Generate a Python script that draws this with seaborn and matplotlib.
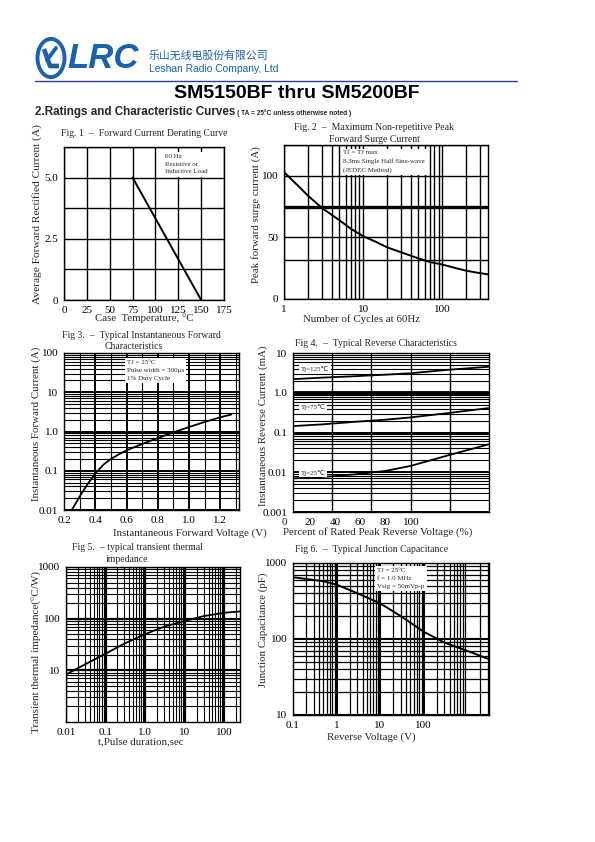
import numpy as np
import pandas as pd
import matplotlib
matplotlib.use("Agg")
import matplotlib.pyplot as plt
import seaborn as sns
from matplotlib.ticker import LogLocator, NullFormatter, FixedLocator
from matplotlib.patches import Circle
from matplotlib.lines import Line2D
import matplotlib.transforms as mtransforms

# ---------------- data ----------------
fig1_temp = [75, 150]
fig1_current = [5.0, 0.0]

fig2_cycles = [1, 1.5, 2, 3, 5, 7, 10, 15, 20, 30, 50, 70, 100, 150, 200, 300, 380]
fig2_surge = [103, 92, 84, 74, 64, 57, 51, 46, 42, 38, 33, 30, 28, 25, 23, 21, 20]

fig3_voltage = [0.25, 0.28, 0.30, 0.35, 0.40, 0.45, 0.50, 0.55, 0.60, 0.70,
                0.80, 0.90, 1.00, 1.10, 1.20, 1.27]
fig3_current = [0.010, 0.016, 0.022, 0.045, 0.085, 0.14, 0.20, 0.26, 0.33, 0.48,
                0.68, 0.95, 1.30, 1.75, 2.30, 2.70]

fig4_percent = [7, 30, 55, 80, 100, 130, 161]
fig4_tj125 = [2.2, 2.4, 2.6, 2.85, 3.1, 3.8, 4.5]
fig4_tj75 = [0.145, 0.16, 0.185, 0.21, 0.24, 0.31, 0.41]
fig4_tj25 = [0.0070, 0.0076, 0.0088, 0.0108, 0.0145, 0.027, 0.05]

fig5_time = [0.01, 0.03, 0.1, 0.3, 1.0, 3.0, 10, 30, 100, 250]
fig5_impedance = [8.3, 13, 21, 33, 50, 70, 90, 112, 130, 138]

fig6_voltage = [0.1, 0.5, 1, 3, 10, 30, 100, 300, 1000, 3000]
fig6_capacitance = [650, 575, 520, 400, 295, 200, 125, 90, 70, 55]

fig1_xticks = [0, 25, 50, 75, 100, 125, 150, 175]
fig1_yticks = [0, 2.5, 5.0]
fig1_ylabels = ["0", "2.5", "5.0"]
fig2_xticks = [1, 10, 100]
fig2_yticks = [0, 50, 100]
fig3_xticks = [0.2, 0.4, 0.6, 0.8, 1.0, 1.2]
fig3_yticks = [0.01, 0.1, 1, 10, 100]
fig3_ylabels = ["0.01", "0.1", "1.0", "10", "100"]
fig4_xticks = [20, 40, 60, 80, 100]
fig4_yticks = [0.001, 0.01, 0.1, 1, 10]
fig4_ylabels = ["0.001", "0.01", "0.1", "1.0", "10"]
fig5_xticks = [0.01, 0.1, 1, 10, 100]
fig5_xlabels = ["0.01", "0.1", "1.0", "10", "100"]
fig5_yticks = [10, 100, 1000]
fig6_xticks = [0.1, 1, 10, 100]
fig6_xlabels = ["0.1", "1", "10", "100"]
fig6_yticks = [10, 100, 1000]

# ---------------- style ----------------
sns.set_style("white")
plt.rcParams["font.family"] = ["Liberation Serif", "DejaVu Sans"]
plt.rcParams["axes.edgecolor"] = "black"
plt.rcParams["axes.linewidth"] = 1.0

W, H = 595, 842
fig = plt.figure(figsize=(W / 100, H / 100), dpi=100)
fig.patch.set_facecolor("white")

SERIF = ["Liberation Serif", "DejaVu Sans"]
SANS = ["Liberation Sans", "DejaVu Sans"]
BLUE = "#1b62ad"
TICK_FS = 8
LAB_FS = 7.8
TITLE_FS = 7


def fx(x):
    return x / W


def fy(y):
    return 1 - y / H


def add_ax(l, t, r, b):
    ax = fig.add_axes([l / W, 1 - b / H, (r - l) / W, (b - t) / H])
    for s in ax.spines.values():
        s.set_color("black")
        s.set_linewidth(1.0)
    return ax


def finish(ax, xlabel, ylabel, xl_coords, yl_coords):
    ax.set_axisbelow(True)
    ax.tick_params(which="both", length=0, pad=4, labelcolor="black")
    for lab in ax.get_xticklabels() + ax.get_yticklabels():
        lab.set_fontfamily(SERIF)
        lab.set_fontsize(TICK_FS)
    ax.set_xlabel(xlabel, fontsize=LAB_FS, family=SERIF)
    ax.set_ylabel(ylabel, fontsize=LAB_FS, family=SERIF)
    ax.xaxis.set_label_coords(*xl_coords)
    ax.yaxis.set_label_coords(*yl_coords)


def ftext(x, y, s, **kw):
    kw.setdefault("family", SERIF)
    kw.setdefault("fontsize", TITLE_FS)
    kw.setdefault("va", "center")
    fig.text(fx(x), fy(y), s, **kw)


def box(ax, x, y, s, fs=5):
    ax.text(x, y, s, transform=ax.transAxes, fontsize=fs, family=SERIF,
            va="top", ha="left", linespacing=1.7,
            bbox=dict(facecolor="white", edgecolor="none", pad=1.5), zorder=5)


# ---------------- header ----------------
circ = Circle((fx(51), fy(58)), 13.5 / W, transform=fig.transFigure,
              facecolor="none", edgecolor=BLUE, lw=2.8)
fig.patches.append(circ)
fig.lines.append(Line2D([fx(44), fx(50), fx(59)], [fy(49), fy(66), fy(66)],
                        transform=fig.transFigure, color=BLUE, lw=3.4,
                        solid_capstyle="butt"))
fig.lines.append(Line2D([fx(47), fx(56)], [fy(60), fy(48)],
                        transform=fig.transFigure, color=BLUE, lw=2.8))
fig.text(fx(67), fy(59), "LRC", color=BLUE, family=SANS, fontsize=25,
         fontweight="bold", fontstyle="italic", va="center", ha="left")
fig.text(fx(149), fy(55.5), "乐山无线电股份有限公司", color=BLUE,
         family=["Noto Sans CJK SC", "DejaVu Sans"], fontsize=7.8,
         va="center", ha="left")
fig.text(fx(149), fy(69), "Leshan Radio Company, Ltd", color=BLUE,
         family=SANS, fontsize=7.4, va="center", ha="left")
fig.lines.append(Line2D([fx(35), fx(517)], [fy(81), fy(81)],
                        transform=fig.transFigure, color="#2a3f8f", lw=1.0))
fig.text(fx(297), fy(94), "SM5150BF thru SM5200BF", family=SANS,
         fontsize=14, fontweight="bold", ha="center", va="center", color="black")
fig.text(fx(35), fy(112), "2.Ratings and Characteristic Curves", family=SANS,
         fontsize=8.4, fontweight="bold", ha="left", va="center")
fig.text(fx(237), fy(113), "( TA = 25°C unless otherwise noted )", family=SANS,
         fontsize=4.8, fontweight="bold", ha="left", va="center")

# ---------------- Fig 1 ----------------
ax1 = add_ax(64, 147, 224, 300)
sns.lineplot(x=fig1_temp, y=fig1_current, ax=ax1, color="black", lw=1.4)
ax1.set_xlim(0, 175)
ax1.set_ylim(0, 6.25)
ax1.set_xticks(fig1_xticks)
ax1.set_yticks(fig1_yticks)
ax1.set_yticklabels(fig1_ylabels)
ax1.yaxis.set_minor_locator(FixedLocator([1.25, 3.75, 6.25]))
ax1.grid(True, which="both", color="black", lw=1.0)
finish(ax1, "Case  Temperature, °C", "Average Forward Rectified Current (A)",
       (0.5, -0.085), (-0.135, 0.56))
ax1.yaxis.label.set_fontsize(8.2)
box(ax1, 0.63, 0.955, "60 Hz\nResistive or\nInductive Load")
ftext(144, 134, "Fig. 1  –  Forward Current Derating Curve", ha="center")

# ---------------- Fig 2 ----------------
ax2 = add_ax(284, 145, 488, 299)
sns.lineplot(x=fig2_cycles, y=fig2_surge, ax=ax2, color="black", lw=1.4)
ax2.set_xscale("log")
ax2.set_xlim(1, 380)
ax2.set_ylim(0, 125)
ax2.set_xticks(fig2_xticks)
ax2.set_xticklabels(["1", "10", "100"])
ax2.xaxis.set_minor_locator(LogLocator(base=10, subs=np.arange(2, 10)))
ax2.xaxis.set_minor_formatter(NullFormatter())
ax2.set_yticks(fig2_yticks)
ax2.yaxis.set_minor_locator(FixedLocator([32, 75, 125]))
ax2.grid(True, which="both", color="black", lw=1.0)
ax2.axhline(75, color="black", lw=2.4, zorder=1)
finish(ax2, "Number of Cycles at 60Hz", "Peak forward surge current (A)",
       (0.38, -0.1), (-0.112, 0.55))
box(ax2, 0.29, 0.965, "TJ = TJ max\n8.3ms Single Half Sine-wave\n(JEDEC Method)")
ftext(374, 128, "Fig. 2  –  Maximum Non-repetitive Peak", ha="center")
ftext(374, 140, "Forward Surge Current", ha="center")

# ---------------- Fig 3 ----------------
ax3 = add_ax(64, 353, 239, 510)
sns.lineplot(x=fig3_voltage, y=fig3_current, ax=ax3, color="black", lw=1.3)
ax3.set_yscale("log")
ax3.set_xlim(0.2, 1.32)
ax3.set_ylim(0.01, 100)
ax3.set_xticks(fig3_xticks)
ax3.set_xticklabels([f"{v:.1f}" for v in fig3_xticks])
ax3.xaxis.set_minor_locator(FixedLocator(np.arange(0.3, 1.35, 0.2)))
ax3.set_yticks(fig3_yticks)
ax3.set_yticklabels(fig3_ylabels)
ax3.yaxis.set_minor_locator(LogLocator(base=10, subs=np.arange(2, 10)))
ax3.yaxis.set_minor_formatter(NullFormatter())
ax3.grid(True, which="major", color="black", lw=1.4)
ax3.grid(True, which="minor", color="black", lw=0.8)
finish(ax3, "Instantaneous Forward Voltage (V)", "Instantaneous Forward Current (A)",
       (0.72, -0.115), (-0.13, 0.55))
box(ax3, 0.36, 0.955, "TJ = 25°C\nPulse width = 300μs\n1% Duty Cycle")
ftext(141, 335, "Fig 3.  –  Typical Instantaneous Forward", ha="center")
ftext(134, 346, "Characteristics", ha="center")

# ---------------- Fig 4 ----------------
ax4 = add_ax(293, 353, 489, 512)
df4 = pd.DataFrame({
    "percent": fig4_percent * 3,
    "current": fig4_tj125 + fig4_tj75 + fig4_tj25,
    "tj": ["125"] * len(fig4_percent) + ["75"] * len(fig4_percent) + ["25"] * len(fig4_percent),
})
sns.lineplot(data=df4, x="percent", y="current", units="tj", estimator=None,
             ax=ax4, color="black", lw=1.3)
ax4.set_yscale("log")
ax4.set_xlim(6.9, 161.6)
ax4.set_ylim(0.001, 10)
ax4.set_xticks(fig4_xticks)
ax4.xaxis.set_minor_locator(FixedLocator(np.linspace(6.9, 161.6, 6)[1:-1]))
ax4.set_yticks(fig4_yticks)
ax4.set_yticklabels(fig4_ylabels)
ax4.yaxis.set_minor_locator(LogLocator(base=10, subs=np.arange(2, 10)))
ax4.yaxis.set_minor_formatter(NullFormatter())
ax4.xaxis.grid(True, which="minor", color="black", lw=1.0)
ax4.xaxis.grid(False, which="major")
ax4.yaxis.grid(True, which="major", color="black", lw=1.4)
ax4.yaxis.grid(True, which="minor", color="black", lw=0.8)
ax4.axhline(1, color="black", lw=3.5, zorder=1)
finish(ax4, "Percent of Rated Peak Reverse Voltage (%)",
       "Instantaneous Reverse Current (mA)", (0.43, -0.095), (-0.13, 0.54))
ax4.text(0, -0.035, "0", transform=mtransforms.blended_transform_factory(
    ax4.transData, ax4.transAxes), ha="center", va="top", fontsize=TICK_FS,
    family=SERIF, clip_on=False)
for yy, s in [(0.90, "Tj=125℃"), (0.66, "Tj=75℃"), (0.245, "Tj=25℃")]:
    ax4.text(0.04, yy, s, transform=ax4.transAxes, fontsize=5,
             family=SERIF, va="center", ha="left",
             bbox=dict(facecolor="white", edgecolor="none", pad=1), zorder=5)
ftext(295, 343, "Fig 4.  –  Typical Reverse Characteristics", ha="left")

# ---------------- Fig 5 ----------------
ax5 = add_ax(66, 567, 240, 722)
sns.lineplot(x=fig5_time, y=fig5_impedance, ax=ax5, color="black", lw=1.3)
ax5.set_xscale("log")
ax5.set_yscale("log")
ax5.set_xlim(0.01, 250)
ax5.set_ylim(1, 1000)
ax5.set_xticks(fig5_xticks)
ax5.set_xticklabels(fig5_xlabels)
ax5.set_yticks(fig5_yticks)
ax5.set_yticklabels(["10", "100", "1000"])
for axis in (ax5.xaxis, ax5.yaxis):
    axis.set_minor_locator(LogLocator(base=10, subs=np.arange(2, 10)))
    axis.set_minor_formatter(NullFormatter())
ax5.grid(True, which="major", color="black", lw=1.6)
ax5.grid(True, which="minor", color="black", lw=0.8)
finish(ax5, "t,Pulse duration,sec", "Transient thermal impedance(°C/W)",
       (0.43, -0.1), (-0.14, 0.45))
ax5.yaxis.label.set_fontsize(8.0)
ftext(137, 548, "Fig 5.  – typical transient thermal", ha="center")
ftext(127, 560, "impedance", ha="center")

# ---------------- Fig 6 ----------------
ax6 = add_ax(293, 563, 489, 715)
sns.lineplot(x=fig6_voltage, y=fig6_capacitance, ax=ax6, color="black", lw=1.4)
ax6.set_xscale("log")
ax6.set_yscale("log")
ax6.set_xlim(0.1, 3200)
ax6.set_ylim(10, 1000)
ax6.set_xticks(fig6_xticks)
ax6.set_xticklabels(fig6_xlabels)
ax6.set_yticks(fig6_yticks)
ax6.set_yticklabels(["10", "100", "1000"])
for axis in (ax6.xaxis, ax6.yaxis):
    axis.set_minor_locator(LogLocator(base=10, subs=np.arange(2, 10)))
    axis.set_minor_formatter(NullFormatter())
ax6.grid(True, which="major", color="black", lw=1.5)
ax6.grid(True, which="minor", color="black", lw=0.9)
finish(ax6, "Reverse Voltage (V)", "Junction Capacitance (pF)",
       (0.40, -0.115), (-0.13, 0.56))
box(ax6, 0.43, 0.965, "TJ = 25°C\nf = 1.0 MHz\nVsig = 50mVp-p")
ftext(295, 550, "Fig 6.  –  Typical Junction Capacitance", ha="left")

fig.savefig("out.png", dpi=100, facecolor="white")
